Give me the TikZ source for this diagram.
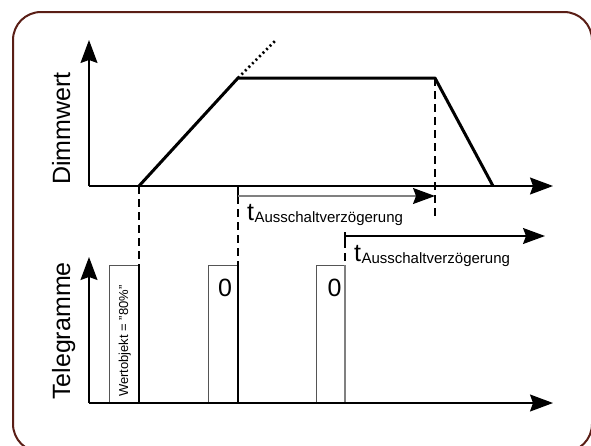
\documentclass[tikz,border=0pt]{standalone}
\usepackage{fontspec}
\setmainfont{Liberation Sans}
\usetikzlibrary{arrows.meta}
\definecolor{framebrown}{HTML}{5A1E16}
\definecolor{boxgray}{HTML}{555555}
\tikzset{
  axis/.style={line width=1.4pt,-{Stealth[length=23pt,width=17pt,inset=3pt]}},
  curve/.style={line width=3pt,line join=round},
  dashline/.style={line width=1.4pt,dash pattern=on 8pt off 5pt},
  telbox/.style={line width=1pt,draw=boxgray},
  timearrow/.style={line width=1.2pt,-{Stealth[length=22pt,width=16pt,inset=3pt,color=black]}},
  bigtxt/.style={inner sep=0pt,font=\fontsize{25}{25}\selectfont},
  ttxt/.style={anchor=base west,inner sep=0pt,font=\fontsize{25}{25}\selectfont},
  subtxt/.style={anchor=base west,inner sep=0pt,font=\fontsize{15}{15}\selectfont},
}
\begin{document}
\begin{tikzpicture}[x=1pt,y=-1pt]
\useasboundingbox (0,0) rectangle (591,445);
\fill[white] (0,0) rectangle (591,445);
\draw[framebrown,line width=2pt,rounded corners=28pt] (13,12) rectangle (592,452);

% coordinates
\coordinate (O1) at (89,186);
\coordinate (Y1) at (89,40);
\coordinate (X1) at (553,186);
\coordinate (A) at (139,186);
\coordinate (B) at (238,78);
\coordinate (Bd) at (276,40);
\coordinate (C) at (435,78);
\coordinate (D) at (493,186);
\coordinate (Bb) at (238,186);
\coordinate (Bm) at (238,196);
\coordinate (Cb) at (435,196);
\coordinate (Ce) at (435,218);
\coordinate (O2) at (89,403);
\coordinate (Y2) at (89,257);
\coordinate (X2) at (553,403);
\coordinate (T1) at (139,265);
\coordinate (T2) at (238,265);
\coordinate (T3t) at (345,232);
\coordinate (T3m) at (345,236);
\coordinate (T3b) at (345,240);
\coordinate (T3) at (345,265);
\coordinate (E2) at (545,236);

% upper diagram
\draw[axis] (O1) -- (Y1);
\draw[axis] (O1) -- (X1);
\draw[curve] (A) -- (B) -- (C) -- (D);
\draw[line width=2.5pt,dash pattern=on 2pt off 3pt] (B) -- (Bd);

% dashed connectors
\draw[dashline] (A) -- (T1);
\draw[dashline] (Bm) -- (T2);
\draw[dashline] (C) -- (Ce);
\draw[dashline] (T3b) -- (T3);

% time arrows
\draw[line width=1.2pt] (Bb) -- (Bm);
\draw[timearrow,draw=gray] (Bm) -- (Cb);
\draw[line width=1.2pt] (T3t) -- (T3b);
\draw[timearrow] (T3m) -- (E2);

\node[ttxt] (t1) at (247,220) {t};
\node[subtxt] (s1) at (t1.base east) {\raisebox{-2pt}{Ausschaltverzögerung}};
\node[ttxt] (t2) at (354,261) {t};
\node[subtxt] (s2) at (t2.base east) {\raisebox{-2pt}{Ausschaltverzögerung}};

% lower diagram
\draw[telbox] (109,403) |- (T1);
\draw[line width=1.2pt] (T1) -- (139,403);
\draw[telbox] (208,403) |- (T2);
\draw[line width=1.2pt] (T2) -- (238,403);
\draw[telbox] (316,403) |- (T3);
\draw[line width=1.2pt,draw=gray] (T3) -- (345,403);
\draw[axis] (O2) -- (Y2);
\draw[axis] (O2) -- (X2);

% labels
\node[bigtxt,anchor=base west,rotate=90] (dimm) at (70,185) {Dimmwert};
\node[bigtxt,anchor=base west,rotate=90] (tele) at (70,400) {Telegramme};
\node[inner sep=0pt,anchor=base west,rotate=90,font=\fontsize{13}{13}\selectfont] (wert) at (128,397) {Wertobjekt = "80\%"};
\node[bigtxt,anchor=base] (z1) at (225,296) {0};
\node[bigtxt,anchor=base] (z2) at (334.5,296) {0};
\end{tikzpicture}
\end{document}
